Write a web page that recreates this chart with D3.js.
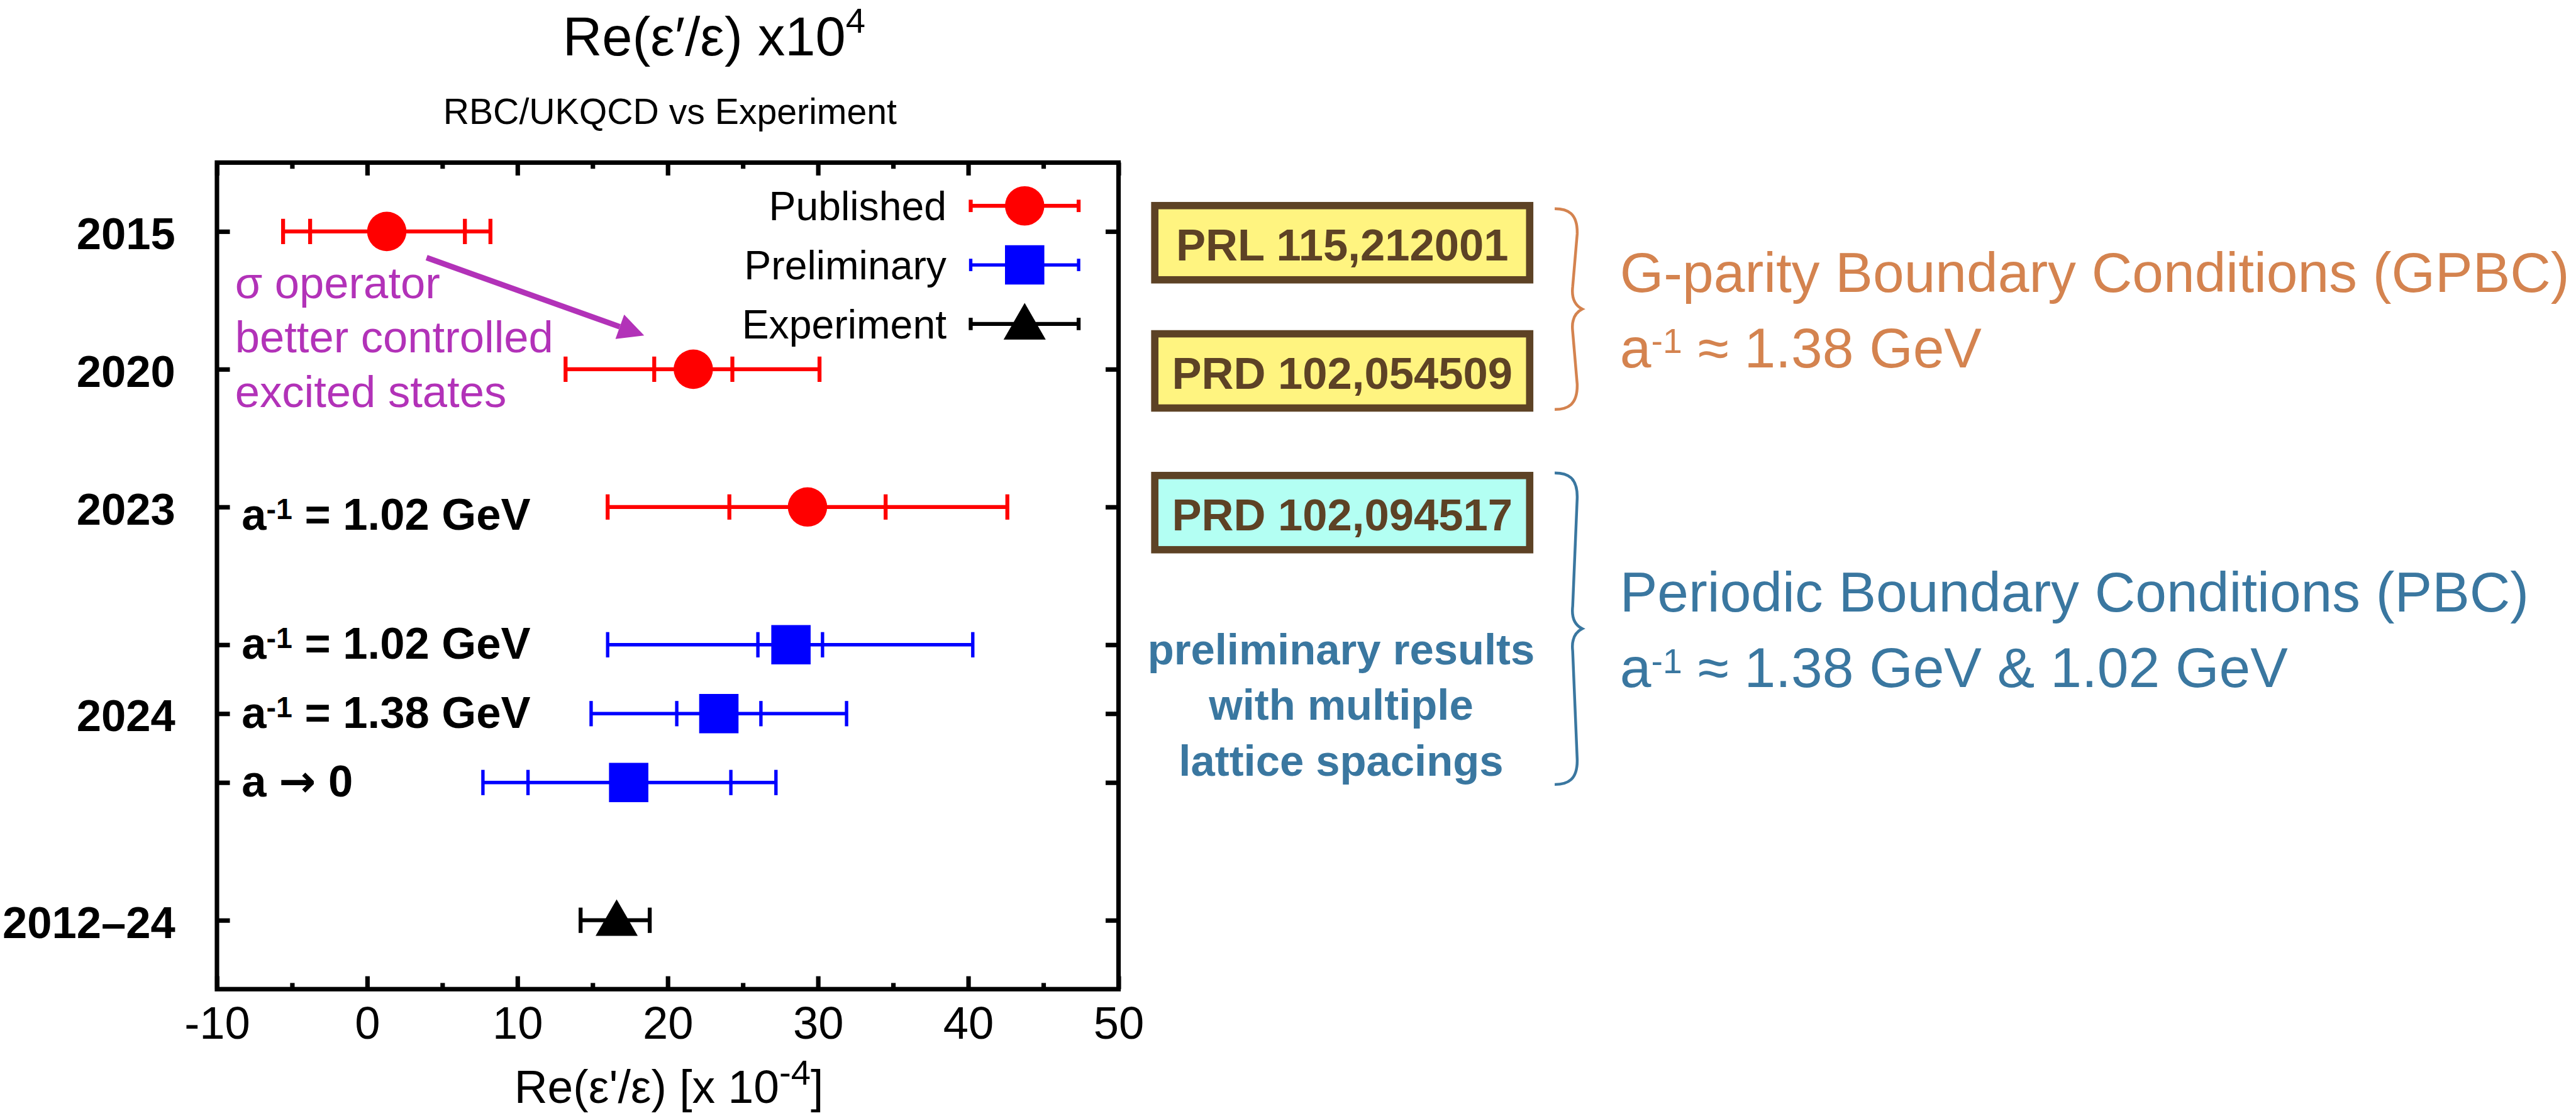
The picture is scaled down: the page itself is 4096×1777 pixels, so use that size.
<!DOCTYPE html>
<html>
<head>
<meta charset="utf-8">
<script src="https://cdn.jsdelivr.net/npm/d3@7"></script>
<style>
body { margin: 0; background: #fff; }
svg text { font-family: "Liberation Sans", Arial, Helvetica, sans-serif; }
</style>
</head>
<body>
<script>
// rows, top to bottom (y position in plot units)
var rowPos = [11, 9, 7, 5, 4, 3, 1];
var rowSeries = ['Published', 'Published', 'Published', 'Preliminary', 'Preliminary', 'Preliminary', 'Experiment'];
var centralValues = [1.3, 21.7, 29.3, 28.2, 23.4, 17.4, 16.6];
var statLow  = [-3.8, 19.1, 24.1, 26.0, 20.6, 10.7, null];
var statHigh = [6.5, 24.3, 34.5, 30.3, 26.2, 24.2, null];
var totalLow  = [-5.6, 13.2, 16.0, 16.0, 14.9, 7.7, 14.2];
var totalHigh = [8.2, 30.1, 42.6, 40.3, 31.9, 27.2, 18.8];

var yearTicks = [11, 9, 7, 4, 1];
var yearLabels = ['2015', '2020', '2023', '2024', '2012–24'];
var spacingRows = [7, 5, 4, 3];
var spacingLabels = [['a', '-1', ' = 1.02 GeV'], ['a', '-1', ' = 1.02 GeV'], ['a', '-1', ' = 1.38 GeV'], ['a ', '→', ' 0']];

var xTicks = [-10, 0, 10, 20, 30, 40, 50];
var xMinorTicks = [-5, 5, 15, 25, 35, 45];
var legendNames = ['Published', 'Preliminary', 'Experiment'];

var noteLines = ['σ operator', 'better controlled', 'excited states'];
var arrowFrom = [3.95, 10.62];
var arrowTo = [18.43, 9.49];

var refBoxes = ['PRL 115,212001', 'PRD 102,054509', 'PRD 102,094517'];
var boxFills = ['#fff480', '#fff480', '#b3fff3'];

var colors = {Published: '#ff0000', Preliminary: '#0000ff', Experiment: '#000000'};
var widths = {Published: 7, Preliminary: 6, Experiment: 7};
var purple = '#b232b8', orange = '#d4834f', steel = '#3a77a0', brown = '#5d4225';

var svg = d3.select('body').append('svg')
    .attr('width', 4096)
    .attr('height', 1777)
    .attr('viewBox', '0 0 4583 1988');

var plotLeft = 386, plotRight = 1990, plotTop = 289, plotBottom = 1759;
var x = d3.scaleLinear().domain([-10, 50]).range([plotLeft, plotRight]);
var y = d3.scaleLinear().domain([0, 12]).range([plotBottom, plotTop]);

function symbolFor(s) {
	if (s === 'Published') return d3.symbol().type(d3.symbolCircle).size(Math.PI * 35 * 35)();
	if (s === 'Preliminary') return d3.symbol().type(d3.symbolSquare).size(70 * 70)();
	return d3.symbol().type(d3.symbolTriangle).size(2435)();
}
function symbolShift(s) { return s === 'Experiment' ? 6 : 0; }

// titles
var title = svg.append('text').attr('x', 1001).attr('y', 98).attr('font-size', 97);
title.append('tspan').text('Re(ε′/ε) x10');
title.append('tspan').attr('font-size', 63).attr('dy', -40).text('4');

svg.append('text').attr('x', 1192).attr('y', 220).attr('font-size', 64)
    .attr('text-anchor', 'middle').text('RBC/UKQCD vs Experiment');

// axes
function styleAxis(g) {
	g.select('.domain').remove();
	g.selectAll('.tick line').attr('stroke-width', 8);
	g.attr('font-family', null);
}
svg.append('g').attr('transform', 'translate(0,' + plotBottom + ')')
    .call(d3.axisBottom(x).tickValues(xTicks).tickSize(-23).tickPadding(31)
        .tickFormat(function(d) { return String(d); }))
    .attr('font-size', 81)
    .call(styleAxis);
svg.append('g').attr('transform', 'translate(0,' + plotBottom + ')')
    .call(d3.axisBottom(x).tickValues(xMinorTicks).tickSize(-11).tickFormat(''))
    .call(styleAxis);
svg.append('g').attr('transform', 'translate(0,' + plotTop + ')')
    .call(d3.axisTop(x).tickValues(xTicks).tickSize(-23).tickFormat(''))
    .call(styleAxis);
svg.append('g').attr('transform', 'translate(0,' + plotTop + ')')
    .call(d3.axisTop(x).tickValues(xMinorTicks).tickSize(-11).tickFormat(''))
    .call(styleAxis);
svg.append('g').attr('transform', 'translate(' + plotLeft + ',0)')
    .call(d3.axisLeft(y).tickValues(rowPos).tickSize(-23).tickPadding(74)
        .tickFormat(function(d) { var i = yearTicks.indexOf(d); return i < 0 ? '' : yearLabels[i]; }))
    .attr('font-size', 79).attr('font-weight', 'bold')
    .call(styleAxis)
    .selectAll('text').attr('dy', '0.39em');
svg.append('g').attr('transform', 'translate(' + plotRight + ',0)')
    .call(d3.axisRight(y).tickValues(rowPos).tickSize(-23).tickFormat(''))
    .call(styleAxis);

svg.append('rect')
    .attr('x', plotLeft).attr('y', plotTop)
    .attr('width', plotRight - plotLeft).attr('height', plotBottom - plotTop)
    .attr('fill', 'none').attr('stroke', '#000').attr('stroke-width', 8);

var xt = svg.append('text').attr('x', 1190).attr('y', 1961).attr('font-size', 82)
    .attr('text-anchor', 'middle');
xt.append('tspan').text('Re(ε\'/ε) [x 10');
xt.append('tspan').attr('font-size', 63).attr('dy', -32).text('-4');
xt.append('tspan').attr('dy', 32).text(']');

// spacing labels inside the frame
spacingRows.forEach(function(r, i) {
	var t = svg.append('text').attr('x', 430)
	    .attr('y', y(r) + (i === 0 ? 40 : 25))
	    .attr('font-size', 79).attr('font-weight', 'bold');
	t.append('tspan').text(spacingLabels[i][0]);
	if (spacingLabels[i][1] === '→') {
		t.append('tspan').attr('font-family', '"DejaVu Sans", sans-serif').text('→');
		t.append('tspan').text(spacingLabels[i][2]);
	} else {
		t.append('tspan').attr('font-size', 52).attr('dy', -19).text(spacingLabels[i][1]);
		t.append('tspan').attr('dy', 19).text(spacingLabels[i][2]);
	}
});

// data
var rows = rowPos.map(function(p, i) {
	return {pos: p, series: rowSeries[i], c: centralValues[i],
		sl: statLow[i], sh: statHigh[i], tl: totalLow[i], th: totalHigh[i]};
});

var bars = svg.append('g').selectAll('.bar')
    .data(rows)
    .enter()
    .append('g')
	.attr('class', 'bar')
	.attr('stroke', function(d) { return colors[d.series]; })
	.attr('stroke-width', function(d) { return widths[d.series]; });

bars.append('line')
	.attr('x1', function(d) { return x(d.tl); })
	.attr('x2', function(d) { return x(d.th); })
	.attr('y1', function(d) { return y(d.pos); })
	.attr('y2', function(d) { return y(d.pos); });

bars.selectAll('.cap')
    .data(function(d) {
		return [d.tl, d.sl, d.sh, d.th].filter(function(v) { return v !== null; })
			.map(function(v) { return {v: v, pos: d.pos}; });
	})
    .enter()
    .append('line')
	.attr('class', 'cap')
	.attr('x1', function(d) { return x(d.v); })
	.attr('x2', function(d) { return x(d.v); })
	.attr('y1', function(d) { return y(d.pos) - 22.5; })
	.attr('y2', function(d) { return y(d.pos) + 22.5; });

bars.append('path')
	.attr('d', function(d) { return symbolFor(d.series); })
	.attr('transform', function(d) {
		return 'translate(' + x(d.c) + ',' + (y(d.pos) + symbolShift(d.series)) + ')';
	})
	.attr('stroke', 'none')
	.attr('fill', function(d) { return colors[d.series]; });

// legend
var legend = svg.append('g').selectAll('.key')
    .data(legendNames)
    .enter()
    .append('g')
	.attr('class', 'key')
	.attr('transform', function(d, i) { return 'translate(0,' + (392 + i * 105) + ')'; });

legend.append('text')
	.attr('x', 1684).attr('font-size', 72).attr('text-anchor', 'end')
	.text(function(d) { return d; });

legend.each(function(s) {
	var g = d3.select(this).append('g')
	    .attr('transform', 'translate(1823,-26)')
	    .attr('stroke', colors[s]).attr('stroke-width', widths[s]);
	g.append('line').attr('x1', -96).attr('x2', 96);
	g.append('line').attr('x1', -96).attr('x2', -96).attr('y1', -11).attr('y2', 11);
	g.append('line').attr('x1', 96).attr('x2', 96).attr('y1', -11).attr('y2', 11);
	g.append('path').attr('d', symbolFor(s)).attr('stroke', 'none').attr('fill', colors[s])
	    .attr('transform', 'translate(0,' + symbolShift(s) + ')');
});

// purple note + arrow
svg.append('text')
    .attr('x', x(-8.8)).attr('y', y(10.03))
    .attr('font-size', 79).attr('fill', purple)
    .selectAll('tspan')
    .data(noteLines)
    .enter()
    .append('tspan')
	.attr('x', x(-8.8))
	.attr('dy', function(d, i) { return i === 0 ? 0 : 96.5; })
	.text(function(d) { return d; });

var ax0 = x(arrowFrom[0]), ay0 = y(arrowFrom[1]);
var ax1 = x(arrowTo[0]), ay1 = y(arrowTo[1]);
var ang = Math.atan2(ay1 - ay0, ax1 - ax0);
var headLen = 46, headHalf = 23;
var bx = ax1 - headLen * Math.cos(ang), by = ay1 - headLen * Math.sin(ang);
svg.append('line')
    .attr('x1', ax0).attr('y1', ay0).attr('x2', bx).attr('y2', by)
    .attr('stroke', purple).attr('stroke-width', 10);
svg.append('path')
    .attr('d', 'M' + ax1 + ',' + ay1
        + 'L' + (bx + headHalf * Math.sin(ang)) + ',' + (by - headHalf * Math.cos(ang))
        + 'L' + (bx - headHalf * Math.sin(ang)) + ',' + (by + headHalf * Math.cos(ang)) + 'Z')
    .attr('fill', purple);

// reference boxes
var boxTops = [365.5, 593.5, 845.5];
refBoxes.forEach(function(label, i) {
	svg.append('rect')
	    .attr('x', 2054.5).attr('y', boxTops[i]).attr('width', 667).attr('height', 132)
	    .attr('fill', boxFills[i]).attr('stroke', brown).attr('stroke-width', 13);
	svg.append('text')
	    .attr('x', 2388).attr('y', boxTops[i] + 98)
	    .attr('font-size', 79).attr('font-weight', 'bold').attr('fill', brown)
	    .attr('text-anchor', 'middle').text(label);
});

// braces
function brace(yTop, yBot, color) {
	var xa = 2801, x0 = 2766, ym = (yTop + yBot) / 2;
	var p = 'M' + x0 + ',' + yTop
		+ 'C' + (xa - 12) + ',' + yTop + ' ' + (xa + 6) + ',' + (yTop + 8) + ' ' + (xa + 5) + ',' + (yTop + 45)
		+ 'L' + (xa - 3) + ',' + (ym - 40)
		+ 'C' + (xa - 6) + ',' + (ym - 14) + ' ' + (xa + 6) + ',' + (ym - 4) + ' ' + (xa + 14) + ',' + ym
		+ 'C' + (xa + 6) + ',' + (ym + 4) + ' ' + (xa - 6) + ',' + (ym + 14) + ' ' + (xa - 3) + ',' + (ym + 40)
		+ 'L' + (xa + 5) + ',' + (yBot - 45)
		+ 'C' + (xa + 6) + ',' + (yBot - 8) + ' ' + (xa - 12) + ',' + yBot + ' ' + x0 + ',' + yBot;
	svg.append('path').attr('d', p).attr('fill', 'none')
	    .attr('stroke', color).attr('stroke-width', 5);
}
brace(371, 728, orange);
brace(841, 1395, steel);

function bigText(yb, color, parts) {
	var t = svg.append('text').attr('x', 2882).attr('y', yb).attr('font-size', 100).attr('fill', color);
	t.append('tspan').text(parts[0]);
	if (parts.length > 1) {
		t.append('tspan').attr('font-size', 62).attr('dy', -25).text(parts[1]);
		t.append('tspan').attr('dy', 25).text(parts[2]);
	}
}
bigText(519, orange, ['G-parity Boundary Conditions (GPBC)']);
bigText(653, orange, ['a', '-1', ' ≈ 1.38 GeV']);
bigText(1087, steel, ['Periodic Boundary Conditions (PBC)']);
bigText(1222, steel, ['a', '-1', ' ≈ 1.38 GeV & 1.02 GeV']);

var prelim = ['preliminary results', 'with multiple', 'lattice spacings'];
svg.append('g').selectAll('text')
    .data(prelim)
    .enter()
    .append('text')
	.attr('x', 2386)
	.attr('y', function(d, i) { return 1181 + i * 99; })
	.attr('font-size', 77).attr('font-weight', 'bold').attr('fill', steel)
	.attr('text-anchor', 'middle')
	.text(function(d) { return d; });
</script>
</body>
</html>
